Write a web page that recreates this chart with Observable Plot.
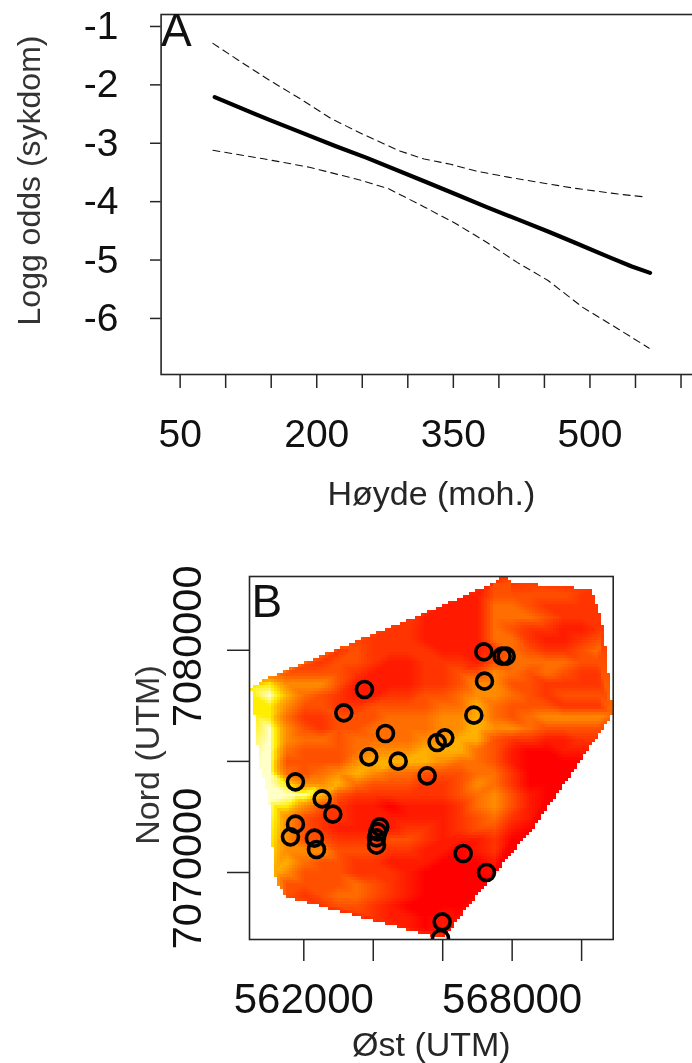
<!DOCTYPE html>
<html lang="no">
<head>
<meta charset="utf-8">
<script src="https://cdn.jsdelivr.net/npm/d3@7"></script>
<script src="https://cdn.jsdelivr.net/npm/@observablehq/plot@0.6"></script>
<style>
html,body{margin:0;padding:0;background:#fff}
svg{display:block;filter:blur(.45px)}
</style>
</head>
<body>
<div id="chart"></div>
<script>
// Panel A: [height m, log odds]
const fitLine = [[88,-2.21],[148,-2.60],[182,-2.81],[221,-3.05],[255,-3.25],[318,-3.65],[352,-3.87],[386,-4.09],[420,-4.30],[454,-4.51],[483,-4.70],[521,-4.95],[546,-5.11],[566,-5.22]];
const upperLine = [[86,-1.29],[117,-1.61],[148,-1.92],[182,-2.24],[216,-2.58],[250,-2.84],[289,-3.12],[318,-3.27],[347,-3.36],[376,-3.48],[410,-3.58],[444,-3.67],[483,-3.77],[531,-3.87],[561,-3.92]];
const lowerLine = [[86,-3.12],[143,-3.27],[192,-3.41],[250,-3.64],[279,-3.78],[318,-4.09],[352,-4.37],[386,-4.69],[420,-5.04],[454,-5.35],[492,-5.81],[531,-6.18],[565,-6.51]];
const heightTicks = [50,100,150,200,250,300,350,400,450,500,550,600];
const heightLabels = [50,200,350,500];
const oddsTicks = [-1,-2,-3,-4,-5,-6];

// Panel B: sampled sites [east, north]
const sites = [[567184,7079930],[567712,7079735],[567827,7079735],[567203,7078610],[566896,7077080],[563747,7078235],[563152,7077185],[564352,7076255],[566061,7076060],[565840,7075850],[563872,7075205],[564717,7075010],[565552,7074350],[561760,7074080],[562528,7073315],[562835,7072625],[561760,7072175],[561616,7071605],[562307,7071545],[562365,7071035],[564189,7072055],[564131,7071830],[564093,7071560],[564093,7071230],[566589,7070855],[567261,7070000],[565984,7067780],[565936,7067030]];
// Map shade level (0 red ... 8 near white), columns from east 560500 every 500, rows from north 7083000 every 500
const shadeRows = [
"..............32.....",
".............1333332.",
"...........111443222.",
"..........11114443222",
"........2211114322112",
".......22211114421123",
".....2322221112432234",
"....23321122213444433",
"..3333211122335434322",
".75553111122355332222",
"786432112233455432333",
"775332233334464333222",
".74223334445564345555",
".85323344445565543333",
".8544344445566322112.",
".8433345556664310011.",
".8333356666544310000.",
".843456544333442000..",
".875564333223542000..",
".88863222222345310...",
"..753211011124531....",
"..532211111123421....",
"..53211112212331.....",
"..53322233211120.....",
"..5553332211012......",
"..6433221110001......",
"..533322210000.......",
"..333343210000.......",
"..32344321000........",
"....233210000........",
".......21101.........",
".........101.........",
"....................."
];
// Outline of the mapped area [east, north, shade]
const outline = [[560464,7078355,7],[560992,7078805,5],[563056,7080155,3],[565168,7081505,2],[567520,7083080,2],[567616,7083305,2],[567856,7083305,2],[567952,7083080,3],[570304,7082780,2],[570640,7081055,2],[570909,7077155,4],[569776,7074605,0],[568624,7072055,0],[567328,7069655,0],[566032,7067105,1],[565792,7067105,2],[561520,7068905,3],[561280,7069355,5],[561136,7070030,6],[560992,7073255,8],[560704,7074905,8],[560560,7077155,7]];
// Crest of the bright valley band [east, north, shade]
const crest = [[561712,7073525,8],[562288,7073780,7],[562960,7074125,6],[563536,7074425,6],[564304,7074755,6],[564976,7075130,6],[565456,7075505,6],[566320,7075955,6],[566800,7076405,6]];
const eastTicks = [562000,564000,566000,568000,570000];
const eastLabels = [562000,568000];
const northTicks = [7070000,7075000,7080000];
const northLabels = [7070000,7080000];
const shadeLevels = [0,1,2,3,4,5,6,7,8];
const shadeColors = ["#ff0000","#ff1a00","#ff3400","#ff5000","#ff6e00","#ff8c00","#ffb000","#ffee00","#ffffc8"];

const samples = outline.concat(crest).map(([e,n,v]) => ({e,n,v}));
shadeRows.forEach((row,j) => [...row].forEach((c,i) => {
  if (c !== ".") samples.push({e:560500+500*i, n:7083000-500*j, v:+c});
}));

// Barycentric interpolation, left blank outside the mapped outline
const barycentric = Plot.interpolatorBarycentric();
const insideOutline = (index, w, h, X, Y, V) => {
  const values = barycentric(index, w, h, X, Y, V);
  const ring = outline.map((_, i) => [X[i], Y[i]]);
  for (let y = 0; y < h; ++y) for (let x = 0; x < w; ++x) {
    if (!d3.polygonContains(ring, [x + 0.5, y + 0.5])) values[y * w + x] = NaN;
  }
  return values;
};

const ink = "#262626";
const font = "'Liberation Sans', Arial, sans-serif";

const panelA = Plot.plot({
  width:692, height:530, marginTop:14, marginBottom:156, marginLeft:160.6, marginRight:-3,
  style:{fontFamily:font, background:"#fff", color:ink},
  x:{domain:[29.1,615.9]},
  y:{domain:[-6.96,-0.795]},
  marks:[
    Plot.frame({stroke:ink, strokeWidth:1.6}),
    Plot.axisX({ticks:heightTicks, tickFormat:d => heightLabels.includes(d) ? String(d) : "", tickSize:14, tickPadding:31, fontSize:39, stroke:ink, strokeWidth:1.5, fill:"#111", label:null}),
    Plot.axisY({ticks:oddsTicks, tickSize:10.6, tickPadding:32, fontSize:39, stroke:ink, strokeWidth:1.5, fill:"#111", label:null, tickFormat:d => String(d)}),
    Plot.line(upperLine, {x:"0", y:"1", stroke:"#111", strokeWidth:1.1, strokeDasharray:"7 5"}),
    Plot.line(lowerLine, {x:"0", y:"1", stroke:"#111", strokeWidth:1.1, strokeDasharray:"7 5"}),
    Plot.line(fitLine, {x:"0", y:"1", stroke:"#000", strokeWidth:4.2}),
    Plot.text(["A"], {frameAnchor:"top-left", dx:0, dy:-1, fontSize:46, fill:"#111", textAnchor:"start", lineAnchor:"top"}),
    Plot.text(["Høyde (moh.)"], {frameAnchor:"bottom", dx:3, dy:130, fontSize:34, fill:ink}),
    Plot.text(["Logg odds (sykdom)"], {frameAnchor:"left", textAnchor:"middle", dx:-131, dy:-14, rotate:-90, fontSize:32, fill:"#333"})
  ]
});

const panelB = Plot.plot({
  width:692, height:533, marginTop:46, marginBottom:124, marginLeft:249, marginRight:79.3,
  style:{fontFamily:font, background:"#fff", color:ink},
  x:{domain:[560436,570910]},
  y:{domain:[7066985,7083320]},
  color:{type:"linear", domain:shadeLevels, range:shadeColors, interpolate:"rgb"},
  marks:[
    Plot.raster(samples, {x:"e", y:"n", fill:"v", interpolate:insideOutline, pixelSize:3, imageRendering:"pixelated"}),
    Plot.dot(sites, {x:"0", y:"1", r:8, stroke:"#000", strokeWidth:3.6, fill:"none", clip:true}),
    Plot.frame({stroke:ink, strokeWidth:1.6}),
    Plot.axisX({ticks:eastTicks, tickFormat:d => eastLabels.includes(d) ? String(d) : "", tickSize:22, tickPadding:22, fontSize:42, stroke:ink, strokeWidth:1.5, fill:"#111", label:null}),
    Plot.axisY({ticks:northTicks, tickFormat:() => "", tickSize:22, stroke:ink, strokeWidth:1.5, label:null}),
    Plot.text(northLabels, {y:d => d, text:d => String(d), frameAnchor:"left", textAnchor:"middle", lineAnchor:"middle", dx:-62, dy:-4, rotate:-90, fontSize:41.5, fill:"#111"}),
    Plot.text(["B"], {frameAnchor:"top-left", dx:2, dy:8, fontSize:46, fill:"#111", textAnchor:"start", lineAnchor:"top"}),
    Plot.text(["Øst (UTM)"], {frameAnchor:"bottom", dx:0, dy:116, fontSize:34, fill:ink}),
    Plot.text(["Nord (UTM)"], {frameAnchor:"left", textAnchor:"middle", dx:-101, dy:-3, rotate:-90, fontSize:34, fill:"#333"})
  ]
});

const host = document.getElementById("chart");
host.append(panelA, panelB);
</script>
</body>
</html>
